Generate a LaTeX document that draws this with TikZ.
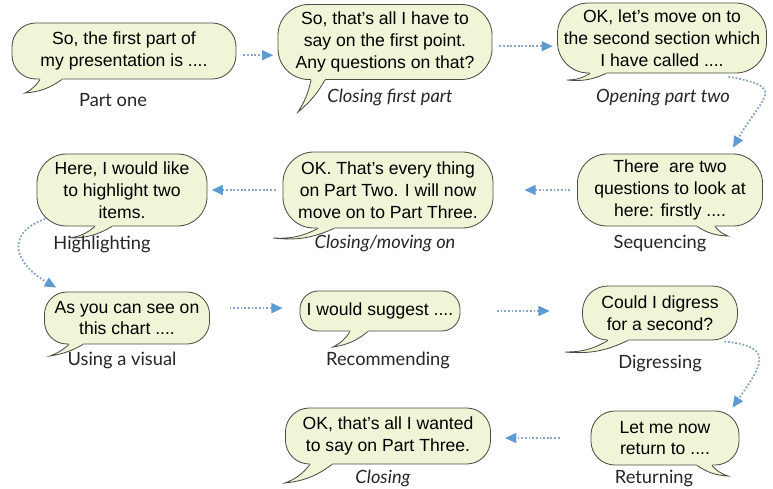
\documentclass[tikz,border=0pt]{standalone}
\usepackage{fontspec}
\setmainfont{Liberation Sans}
\newfontfamily\tagfont{Lato}
\usetikzlibrary{arrows.meta,calc}
\definecolor{bubblefill}{HTML}{F1F4D6}
\definecolor{bubbleline}{HTML}{4D4D45}
\definecolor{flowdot}{HTML}{8AA6C6}
\definecolor{flowhead}{HTML}{5F9BD3}
\tikzset{
  bubble/.style n args={3}{rectangle, minimum width=#1, minimum height=#2, rounded corners=#3,
    draw=bubbleline, fill=bubblefill, line width=0.6pt,
    align=center, inner sep=0pt, font=\fontsize{12.5}{15.5}\selectfont},
  tag/.style={font=\tagfont\fontsize{13}{15}\selectfont, text=black!85},
  tagit/.style={tag, font=\tagfont\itshape\fontsize{13}{15}\selectfont},
  flow/.style={flowdot, line width=1.3pt, dash pattern=on 1.3pt off 1.3pt,
    -{Triangle[length=8pt,width=7pt,flowhead]}, shorten <=5pt, shorten >=3pt},
}
% speech tail: node, outer and inner offset from south, tip, bends
\newcommand\saytail[6]{%
  \fill[bubblefill] ($(#1.south)+(#2,0)$) to[bend left=#5] (#4) to[bend left=#6] ($(#1.south)+(#3,0)$)
    -- ($(#1.south)+(#3,5)$) -- ($(#1.south)+(#2,5)$) -- cycle;
  \draw[bubbleline, line width=0.6pt] ($(#1.south)+(#2,0)$) to[bend left=#5] (#4) to[bend left=#6] ($(#1.south)+(#3,0)$);
}

\begin{document}
\begin{tikzpicture}[x=0.025cm,y=0.025cm]
\useasboundingbox (0,0) rectangle (773,-488);

% bubbles
\node[bubble={5.6cm}{1.4cm}{17pt}] (b1) at (124,-51) {So, the first part of\\my presentation is ....};
\node[bubble={5.35cm}{1.875cm}{22pt}] (b2) at (385,-42) {So, that's all I have to\\say on the first point.\\Any questions on that?};
\node[bubble={5.225cm}{1.75cm}{22pt}] (b3) at (662,-38) {OK, let's move on to\\the second section which\\I have called ....};
\node[bubble={4.625cm}{1.8cm}{21pt}] (b4) at (670,-190) {There\ \ are two\\questions to look at\\here: firstly ....};
\node[bubble={5.25cm}{1.9cm}{22pt}] (b5) at (388,-190) {OK. That's every thing\\on Part Two. I will now\\move on to Part Three.};
\node[bubble={4.25cm}{1.8cm}{21pt}] (b6) at (122,-190) {Here, I would like\\to highlight two\\items.};
\node[bubble={4.125cm}{1.3cm}{16pt}] (b7) at (127,-318) {As you can see on\\this chart ....};
\node[bubble={4cm}{1cm}{13pt}] (b8) at (380,-311) {I would suggest ....};
\node[bubble={3.875cm}{1.35cm}{18pt}] (b9) at (660,-313) {Could I digress\\for a second?};
\node[bubble={3.7cm}{1.35cm}{17pt}] (b10) at (665,-438) {Let me now\\return to ....};
\node[bubble={5.125cm}{1.4cm}{17pt}] (b11) at (388,-436) {OK, that's all I wanted\\to say on Part Three.};

% tails
\coordinate (t1) at (25,-93);
\coordinate (t2) at (298,-112);
\coordinate (t3) at (567,-80);
\coordinate (t4) at (728,-236);
\coordinate (t5) at (273,-238);
\coordinate (t6) at (70,-238);
\coordinate (t7) at (50,-356);
\coordinate (t8) at (333,-347);
\coordinate (t9) at (565,-352);
\coordinate (t10) at (728,-476);
\coordinate (t11) at (285,-483);
\saytail{b1}{-84}{-62}{t1}{15}{-15}
\saytail{b2}{-74}{-60}{t2}{10}{-10}
\saytail{b3}{-72}{-56}{t3}{15}{-15}
\saytail{b4}{45}{27}{t4}{-15}{15}
\saytail{b5}{-70}{-54}{t5}{15}{-15}
\saytail{b6}{-27}{-10}{t6}{15}{-15}
\saytail{b7}{-58}{-44}{t7}{10}{-10}
\saytail{b8}{-30}{-12}{t8}{15}{-15}
\saytail{b9}{-52}{-32}{t9}{15}{-15}
\saytail{b10}{47}{32}{t10}{-15}{15}
\saytail{b11}{-78}{-56}{t11}{15}{-15}

% labels
\node[tag] (l1) at (113,-100) {Part one};
\node[tagit] (l2) at (390,-97) {Closing first part};
\node[tagit] (l3) at (663,-97) {Opening part two};
\node[tag] (l4) at (660,-243) {Sequencing};
\node[tagit] (l5) at (385,-243) {Closing/moving on};
\node[tag] (l6) at (102,-244) {Highlighting};
\node[tag] (l7) at (122,-360) {Using a visual};
\node[tag] (l8) at (388,-360) {Recommending};
\node[tag] (l9) at (660,-363) {Digressing};
\node[tag] (l10) at (654,-478) {Returning};
\node[tagit] (l11) at (383,-478) {Closing};

% arrows
\draw[flow] ([yshift=-3pt]b1.east) -- ([yshift=-3pt]b1.east -| b2.west);
\draw[flow] ([yshift=-3pt]b2.east) -- ([yshift=-3pt]b2.east -| b3.west);
\draw[flow, shorten <=1pt, shorten >=0pt] ($(b3.south east)+(-40,-3)$) to[out=-10,in=60,looseness=2.2] ($(b4.north east)+(-30,6)$);
\draw[flow, shorten >=22pt] (b4.west) -- (b4.west -| b5.east);
\draw[flow] (b5.west) -- (b5.west -| b6.east);
\draw[flow, shorten <=1pt, shorten >=0pt] ($(b6.south west)+(10,8)$) to[out=200,in=150,looseness=1.7] ($(b7.north west)+(12,4)$);
\draw[flow, shorten <=14pt, shorten >=12pt] ([yshift=7pt]b7.east) -- ([yshift=7pt]b7.east -| b8.west);
\draw[flow, shorten <=26pt, shorten >=23pt] (b8.east) -- (b8.east -| b9.west);
\draw[flow, shorten <=1pt, shorten >=0pt] ($(b9.south east)+(-15,-1)$) to[out=-5,in=55,looseness=2] ($(b10.north east)+(-7,3)$);
\draw[flow, shorten <=22pt, shorten >=10pt] (b10.west) -- (b10.west -| b11.east);
\end{tikzpicture}
\end{document}
